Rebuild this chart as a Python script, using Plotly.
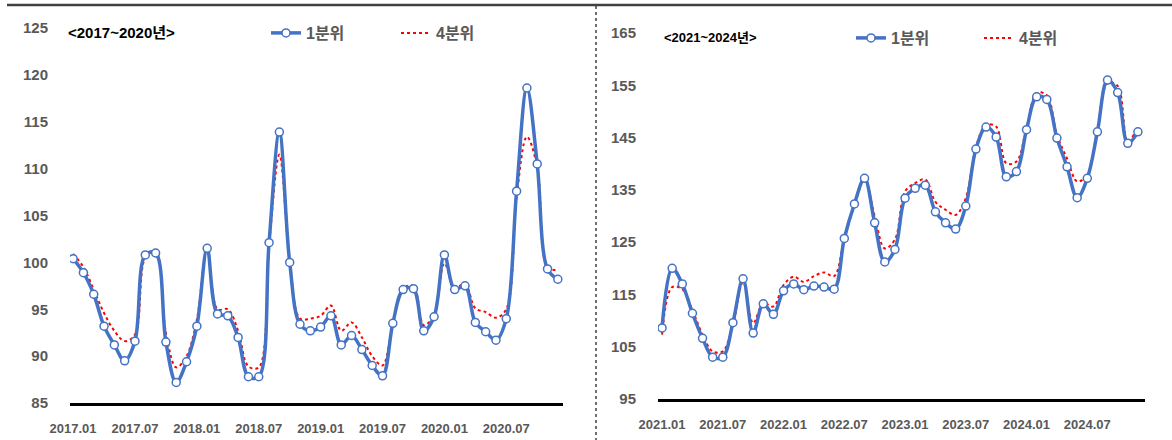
import plotly.graph_objects as go

# Monthly index, 2017.01 - 2020.12
months_a = [f"{y}.{m:02d}" for y in range(2017, 2021) for m in range(1, 13)]
q1_a = [100.4, 98.9, 96.6, 93.2, 91.2, 89.5, 91.6, 100.8, 101.0, 91.5, 87.2, 89.4,
        93.2, 101.5, 94.5, 94.3, 92.0, 87.8, 87.8, 102.1, 113.9, 100.0, 93.4, 92.7,
        93.1, 94.3, 91.2, 92.2, 90.7, 89.0, 87.9, 93.5, 97.1, 97.2, 92.7, 94.2,
        100.8, 97.1, 97.5, 93.6, 92.6, 91.7, 94.0, 107.6, 118.6, 110.5, 99.3, 98.2]
q4_a = [100.9, 99.5, 97.1, 94.6, 92.7, 91.6, 92.3, 100.5, 101.2, 92.5, 88.8, 90.0,
        93.9, 101.5, 95.0, 95.0, 92.7, 88.9, 88.8, 101.8, 111.5, 100.3, 94.0, 94.0,
        94.3, 95.4, 92.7, 93.6, 92.0, 90.0, 89.0, 93.5, 97.2, 97.5, 93.3, 94.4,
        99.9, 97.3, 97.7, 95.1, 94.7, 94.1, 95.0, 107.0, 113.4, 110.2, 99.5, 99.2]

# Monthly index, 2021.01 - 2024.12
months_b = [f"{y}.{m:02d}" for y in range(2021, 2025) for m in range(1, 13)]
q1_b = [108.6, 120.0, 117.0, 111.4, 106.6, 103.0, 103.0, 109.6, 118.0, 107.6, 113.2, 111.2,
        115.7, 117.0, 115.9, 116.6, 116.4, 116.0, 125.7, 132.3, 137.2, 128.7, 121.2, 123.6,
        133.4, 135.3, 135.9, 130.8, 128.7, 127.5, 131.9, 142.8, 147.0, 145.1, 137.5, 138.5,
        146.5, 152.8, 152.3, 144.9, 139.4, 133.5, 137.2, 146.1, 156.0, 153.6, 143.9, 146.1]
q4_b = [107.3, 116.4, 116.0, 112.0, 107.3, 104.1, 104.1, 109.2, 117.4, 109.5, 113.3, 112.7,
        116.8, 118.4, 117.4, 118.5, 119.2, 118.5, 125.7, 132.0, 137.0, 130.0, 123.8, 125.5,
        134.7, 136.3, 137.0, 132.7, 131.2, 130.2, 133.4, 143.2, 147.4, 147.1, 140.1, 140.4,
        146.8, 153.5, 153.1, 145.5, 141.0, 136.6, 137.9, 146.8, 155.4, 154.9, 144.2, 147.1]

tick_idx = list(range(0, 48, 6))
ticks_a = [months_a[i] for i in tick_idx]
ticks_b = [months_b[i] for i in tick_idx]

W, H = 1172, 440
BLUE = "#4472C4"
RED = "#FF0000"
GRAY = "#595959"
FONT = "Liberation Sans, Noto Sans CJK KR, sans-serif"


def px_x(p):
    return p / W


def px_y(p):
    return 1 - p / H


fig = go.Figure()

panels = [
    (q1_a, q4_a, "x", "y", "legend"),
    (q1_b, q4_b, "x2", "y2", "legend2"),
]
for q1, q4, xa, ya, lg in panels:
    idx = list(range(len(q1)))
    fig.add_trace(go.Scatter(
        x=idx, y=q4, name="4분위", mode="lines", xaxis=xa, yaxis=ya, legend=lg,
        line=dict(color=RED, width=2, dash="dot", shape="spline", smoothing=1),
    ))
    fig.add_trace(go.Scatter(
        x=idx, y=q1, name="1분위", mode="lines+markers", xaxis=xa, yaxis=ya, legend=lg,
        line=dict(color=BLUE, width=3.5, shape="spline", smoothing=1),
        marker=dict(symbol="circle", size=8, color="white",
                    line=dict(color=BLUE, width=1.5)),
    ))

xfont = dict(family=FONT, size=13, color=GRAY, weight="bold")
yfont = dict(family=FONT, size=15, color=GRAY, weight="bold")

common_x = dict(showgrid=False, zeroline=False, showline=True, linecolor="black",
                linewidth=2.5, ticks="", tickvals=tick_idx, tickfont=xfont,
                ticklabelstandoff=12, automargin=False)
common_y = dict(showgrid=False, zeroline=False, showline=False, ticks="",
                tickfont=yfont, ticklabelstandoff=21, automargin=False)

legend_common = dict(orientation="h", traceorder="reversed", bgcolor="rgba(0,0,0,0)",
                     font=dict(family=FONT, size=16, color=GRAY, weight="bold"),
                     entrywidth=85, entrywidthmode="pixels", itemwidth=30,
                     xanchor="left", yanchor="middle")

fig.update_layout(
    width=W, height=H,
    margin=dict(l=0, r=0, t=0, b=0, autoexpand=False),
    paper_bgcolor="white", plot_bgcolor="white",
    xaxis=dict(common_x, domain=[px_x(70), px_x(563)], range=[-0.3, 47.5],
               ticktext=ticks_a, anchor="y"),
    yaxis=dict(common_y, domain=[px_y(403), px_y(28)], range=[85, 125],
               tickvals=list(range(85, 126, 5)), anchor="x"),
    xaxis2=dict(common_x, domain=[px_x(658), px_x(1145)], range=[-0.4, 47.7],
                ticktext=ticks_b, anchor="y2"),
    yaxis2=dict(common_y, domain=[px_y(399), px_y(33)], range=[95, 165],
                tickvals=list(range(95, 166, 10)), anchor="x2"),
    legend=dict(legend_common, x=px_x(266), y=px_y(33)),
    legend2=dict(legend_common, x=px_x(851), y=px_y(38), entrywidth=83),
    showlegend=True,
)

fig.add_annotation(text="<2017~2020년>", xref="paper", yref="paper",
                   x=px_x(66), y=px_y(33), xanchor="left", yanchor="middle",
                   showarrow=False,
                   font=dict(family=FONT, size=15, color="black", weight="bold"))
fig.add_annotation(text="<2021~2024년>", xref="paper", yref="paper",
                   x=px_x(662), y=px_y(37), xanchor="left", yanchor="middle",
                   showarrow=False,
                   font=dict(family=FONT, size=13, color="black", weight="bold"))

# frame: top rule and dotted divider between the two periods
fig.add_shape(type="line", xref="paper", yref="paper",
              x0=px_x(7), x1=1, y0=px_y(5), y1=px_y(5),
              line=dict(color="#404040", width=2.5))
fig.add_shape(type="line", xref="paper", yref="paper",
              x0=px_x(596), x1=px_x(596), y0=px_y(6), y1=0,
              line=dict(color="#404040", width=1.5, dash="dot"))

fig.write_html("out.html")
